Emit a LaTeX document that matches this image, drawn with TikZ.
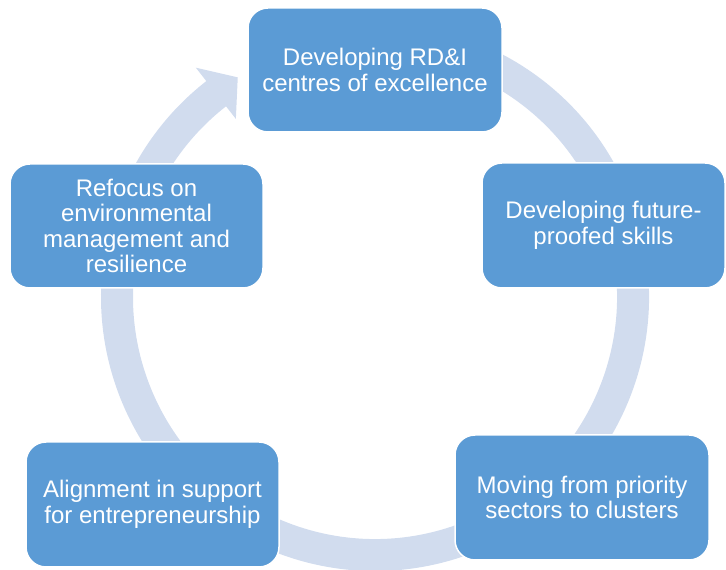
\documentclass[tikz,border=0pt]{standalone}
\usepackage{fontspec}
\setmainfont{Liberation Sans}
\usetikzlibrary{calc}
\definecolor{boxblue}{HTML}{5B9BD5}
\definecolor{ringblue}{HTML}{D1DCEE}
\begin{document}
\begin{tikzpicture}[x=1pt,y=1pt,
  cyclebox/.style={rectangle, rounded corners=20pt, fill=boxblue, draw=white,
    line width=1.5pt, text=white, align=center, inner sep=0pt,
    font=\fontsize{24}{25.5}\selectfont},
  ringband/.style={draw=ringblue, line width=32pt},
  ringhead/.style={fill=ringblue, draw=none}]
\useasboundingbox (0,0) rectangle (726,570);
\coordinate (c) at (375,273);
% ring
\draw[ringband] ([shift={(110:258)}]c) arc[start angle=110, end angle=-232.3, radius=258];
\coordinate (hOut) at ([shift={(128:291)}]c);
\coordinate (hTip) at ([shift={(122:259)}]c);
\coordinate (hIn) at ([shift={(128:226)}]c);
\fill[ringhead] (hOut) -- (hTip) -- (hIn) -- cycle;
% boxes
\node[cyclebox, minimum width=254pt, minimum height=124pt] (top) at (375,500)
  {Developing RD\&I\\centres of excellence};
\node[cyclebox, minimum width=243pt, minimum height=125pt] (right) at (603.5,344.5)
  {Developing future-\\proofed skills};
\node[cyclebox, minimum width=254pt, minimum height=125pt] (bright) at (582,72.5)
  {Moving from priority\\sectors to clusters};
\node[cyclebox, minimum width=253pt, minimum height=125pt] (bleft) at (152.5,65.5)
  {Alignment in support\\for entrepreneurship};
\node[cyclebox, minimum width=253pt, minimum height=124pt] (left) at (136.5,344)
  {Refocus on\\environmental\\management and\\resilience};
\end{tikzpicture}
\end{document}
